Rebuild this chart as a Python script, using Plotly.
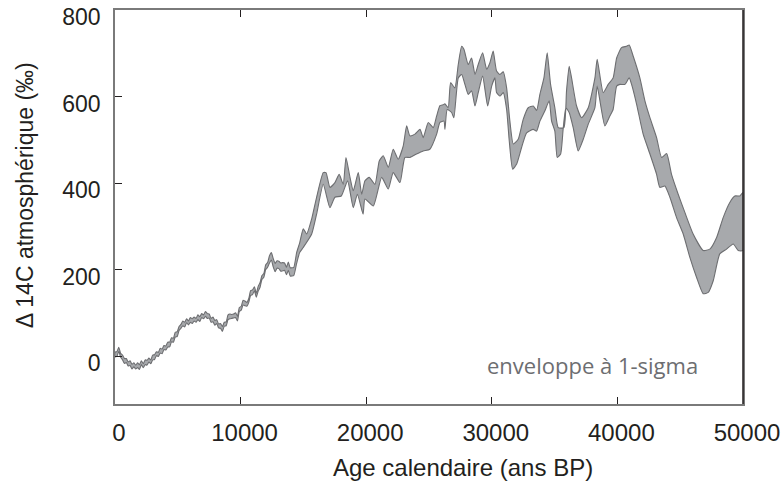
import plotly.graph_objects as go

# Upper edge of the 1-sigma envelope (calendar age BP, Delta14C in permil)
age_upper = [
    0, 150, 300, 450, 600, 750, 900, 1050, 1200, 1350, 1500, 1650, 1800, 1950,
    2100, 2250, 2400, 2550, 2700, 2850, 3000, 3150, 3300, 3450, 3600, 3750, 3900,
    4050, 4200, 4350, 4500, 4650, 4800, 4950, 5100, 5250, 5400, 5550, 5700, 5850,
    6000, 6150, 6300, 6450, 6600, 6750, 6900, 7050, 7200, 7350, 7500, 7650, 7800,
    7950, 8100, 8250, 8400, 8550, 8700, 8850, 9000, 9150, 9300, 9450, 9600, 9750,
    9900, 10050, 10200, 10350, 10500, 10650, 10800, 10950, 11100, 11250, 11400,
    11550, 11700, 11850, 12000, 12150, 12300, 12450, 12600, 12750, 12900, 13050,
    13200, 13350, 13500, 13650, 13800, 13950,
    14230, 14460,
    14700, 14990, 15260, 15660, 16050, 16580, 16800, 17110, 17510, 17850, 18170,
    18390, 18710, 18970, 19370, 19640, 19900, 20240, 20700, 21040, 21360, 21760,
    22150, 22550, 22950, 23220, 23480, 23880, 24280, 24540, 24940, 25340, 25610,
    25870, 26130, 26270, 26530, 26720, 27060, 27330, 27600, 27780, 28120, 28390,
    28660, 28920, 29270, 29590, 29850, 30110, 30380, 30650, 30910, 31180, 31440,
    31710, 32100, 32500, 32900, 33300, 33570, 33830, 34150, 34410, 34680, 35020,
    35290, 35740, 35950, 36160, 36350, 36750, 37150, 37680, 38210, 38390, 38870,
    39270, 39660, 39940, 40330, 40730, 40940, 41260, 41790, 42190, 42590, 43120,
    43520, 43920, 44310, 44840, 45370, 46030, 46830, 47360, 47900, 48420, 48950,
    49350, 49750, 50000,
]
d14c_upper = [
    10, 11, 21, 7, 3, -5, -5, -13, -10, -18, -15, -20, -15, -19,
    -10, -17, -8, -9, -4, -8, 3, 4, 11, 9, 19, 17, 25,
    24, 33, 33, 43, 42, 56, 57, 69, 74, 82, 79, 87, 82,
    90, 87, 91, 88, 96, 92, 99, 96, 104, 99, 98, 88, 91,
    83, 85, 75, 76, 69, 79, 80, 96, 98, 97, 98, 101, 93,
    113, 116, 130, 128, 125, 134, 152, 154, 161, 146, 162,
    171, 187, 192, 212, 217, 233, 240, 226, 215, 221, 220,
    216, 217, 216, 206, 218, 205,
    206, 240,
    262, 295, 283, 318, 368, 425, 425, 391, 402, 421, 398,
    460, 414, 383, 425, 375, 406, 414, 398, 452, 464, 437,
    479, 456, 487, 533, 510, 514, 525, 506, 541, 529, 556,
    580, 582, 584, 575, 633, 621, 675, 717, 710, 675, 690,
    652, 675, 702, 664, 679, 706, 660, 652, 658, 621, 544,
    491, 502, 548, 575, 579, 569, 606, 644, 702, 629, 575,
    529, 529, 614, 671, 644, 579, 552, 575, 644, 687, 610,
    629, 644, 690, 714, 717, 720, 694, 644, 591, 552, 506,
    460, 469, 421, 375, 333, 283, 245, 248, 275, 321, 356,
    371, 371, 379,
]

# Lower edge of the 1-sigma envelope
age_lower = [
    0, 150, 300, 450, 600, 750, 900, 1050, 1200, 1350, 1500, 1650, 1800, 1950,
    2100, 2250, 2400, 2550, 2700, 2850, 3000, 3150, 3300, 3450, 3600, 3750, 3900,
    4050, 4200, 4350, 4500, 4650, 4800, 4950, 5100, 5250, 5400, 5550, 5700, 5850,
    6000, 6150, 6300, 6450, 6600, 6750, 6900, 7050, 7200, 7350, 7500, 7650, 7800,
    7950, 8100, 8250, 8400, 8550, 8700, 8850, 9000, 9150, 9300, 9450, 9600, 9750,
    9900, 10050, 10200, 10350, 10500, 10650, 10800, 10950, 11100, 11250, 11400,
    11550, 11700, 11850, 12000, 12150, 12300, 12450, 12600, 12750, 12900, 13050,
    13200, 13350, 13500, 13650, 13800, 13950,
    14230, 14460,
    14700, 14990, 15660, 16050, 16580, 17110, 17510, 18020, 18520, 18970, 19300,
    19750, 19900, 20570, 21230, 21760, 22150, 22690, 23080, 23480, 24010, 24540,
    25070, 25610, 25870, 26190, 26270, 26450, 26800, 26980, 27330, 27600, 27860,
    28120, 28390, 28660, 28920, 29270, 29670, 29990, 30250, 30380, 30650, 30910,
    31180, 31390, 31660, 31980, 32370, 32770, 33300, 33570, 33830, 34230, 34570,
    34760, 35020, 35210, 35480, 35690, 35900, 36160, 36480, 36880, 37280, 37680,
    38210, 38390, 39000, 39400, 39660, 39940, 40200, 40600, 40940, 41130, 41530,
    42050, 42590, 43120, 43380, 43780, 44180, 44710, 45240, 45770, 46300, 46830,
    47230, 47630, 48150, 48690, 49220, 49620, 50000,
]
d14c_lower = [
    -1, 0, 12, -2, -8, -16, -14, -22, -21, -29, -24, -29, -26, -30,
    -19, -26, -19, -20, -13, -17, -8, -7, 2, 0, 8, 6, 16,
    15, 22, 22, 34, 33, 45, 46, 60, 65, 71, 68, 78, 73,
    79, 76, 82, 79, 85, 81, 90, 87, 93, 88, 89, 79, 80,
    72, 76, 66, 65, 58, 70, 71, 85, 87, 88, 89, 90, 82,
    104, 107, 119, 117, 116, 125, 141, 143, 152, 137, 151,
    160, 178, 183, 201, 206, 216, 223, 207, 196, 204, 203,
    197, 198, 199, 189, 199, 186,
    187, 215,
    240, 252, 283, 329, 398, 344, 368, 371, 406, 344, 375,
    329, 364, 348, 414, 387, 425, 402, 460, 460, 468, 475,
    479, 514, 541, 544, 525, 571, 564, 552, 644, 652, 629,
    606, 614, 579, 610, 648, 579, 625, 644, 610, 602, 610,
    571, 498, 433, 445, 483, 517, 525, 521, 544, 568, 591,
    544, 521, 460, 468, 529, 575, 564, 529, 475, 502, 537,
    575, 625, 533, 556, 571, 625, 629, 629, 644, 629, 583,
    514, 468, 421, 391, 394, 368, 321, 283, 229, 183, 145,
    148, 175, 237, 248, 260, 245, 245,
]

x_ticks = [0, 10000, 20000, 30000, 40000, 50000]
y_ticks = [0, 200, 400, 600, 800]

# Closed polygon: upper edge forward, lower edge back
poly_x = age_upper + age_lower[::-1] + [age_upper[0]]
poly_y = d14c_upper + d14c_lower[::-1] + [d14c_upper[0]]

fig = go.Figure()
fig.add_trace(go.Scatter(
    x=poly_x, y=poly_y, mode="lines", fill="toself",
    fillcolor="#a7a9ac",
    line=dict(color="#6d6e71", width=1.1, shape="spline", smoothing=0.5),
    hoverinfo="skip", showlegend=False,
))

axis_font = dict(family="Liberation Sans, Arial, sans-serif", color="#231f20")

fig.update_layout(
    width=781, height=484,
    margin=dict(l=115, r=38, t=10, b=80),
    paper_bgcolor="white", plot_bgcolor="white",
    showlegend=False,
    xaxis=dict(
        range=[0, 50000], tickvals=x_ticks, ticktext=[str(v) for v in x_ticks],
        ticks="inside", ticklen=7, tickwidth=1, tickcolor="#231f20",
        showline=True, linecolor="#7a7a7a", linewidth=1.5, mirror="ticks",
        showgrid=False, zeroline=False, automargin=False,
        tickfont=dict(size=24, **axis_font), ticklabelstandoff=6,
        ticklabelshift=4, ticklabeloverflow="allow",
    ),
    yaxis=dict(
        range=[-110, 801], tickvals=y_ticks, ticktext=[str(v) for v in y_ticks],
        ticks="inside", ticklen=7, tickwidth=1, tickcolor="#231f20",
        showline=True, linecolor="#7a7a7a", linewidth=1.5, mirror=True,
        showgrid=False, zeroline=False, automargin=False,
        tickfont=dict(size=23, **axis_font), ticklabelstandoff=8,
        ticklabelshift=7, ticklabeloverflow="allow",
    ),
    annotations=[
        dict(text="Age calendaire (ans BP)", xref="paper", yref="paper",
             x=0.554, y=-0.16, xanchor="center", yanchor="middle",
             showarrow=False, font=dict(size=24, **axis_font)),
        dict(text="\u0394 14C atmosphérique (‰)", xref="paper", yref="paper",
             x=-0.1433, y=0.53, xanchor="center", yanchor="middle",
             textangle=-90, showarrow=False, font=dict(size=23, **axis_font)),
        dict(text="enveloppe à 1-sigma", xref="paper", yref="paper",
             x=0.7596, y=0.099, xanchor="center", yanchor="middle",
             showarrow=False,
             font=dict(family="Open Sans, sans-serif", size=22, color="#6d6e71")),
    ],
    shapes=[
        dict(type="line", xref="paper", yref="paper", x0=1, x1=1, y0=0, y1=1,
             line=dict(color="#231f20", width=1.5)),
    ],
)

fig.write_html("out.html")
